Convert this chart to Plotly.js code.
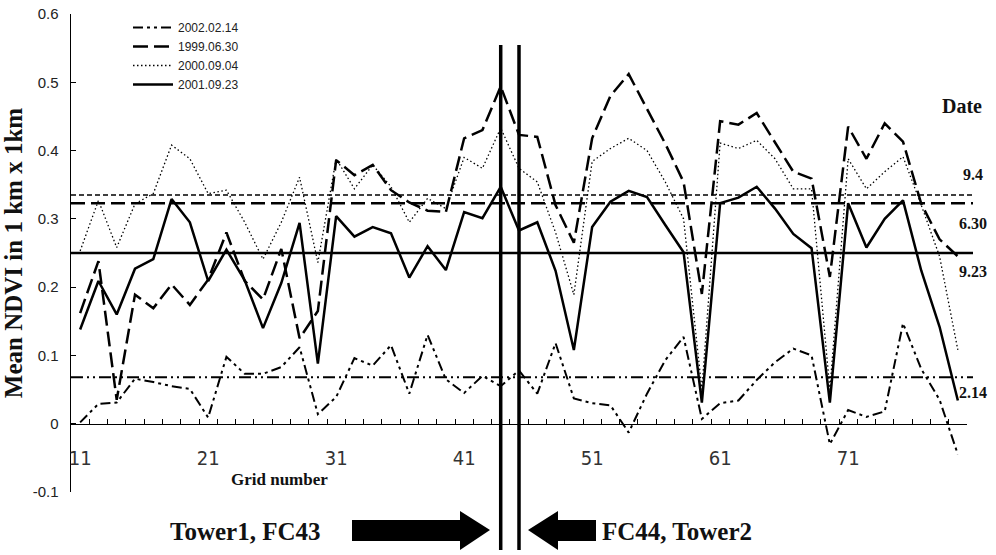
<!DOCTYPE html>
<html><head><meta charset="utf-8">
<script src="https://cdn.plot.ly/plotly-3.0.1.min.js"></script>
<style>html,body{margin:0;padding:0;background:#fff}#chart{width:996px;height:555px}</style>
</head><body><div id="chart"></div>
<script>
// ---- data ----
const gridPos = [0,1,2,3,4,5,6,7,8,9,10,11,12,13,14,15,16,17,18,19,20,21,22,23,24,25,26,27,28,29,30,31,32,33,34,35,36,37,38,39,40,41,42,43,44,45,46,47,48];
const ndvi20020214 = [0.002,0.029,0.031,0.066,0.061,0.055,0.051,0.009,0.098,0.073,0.073,0.083,0.112,0.014,0.039,0.096,0.085,0.115,0.044,0.13,0.065,0.045,0.07,0.055,0.078,0.044,0.118,0.037,0.03,0.027,-0.013,0.044,0.093,0.127,0.007,0.03,0.034,0.064,0.09,0.11,0.1,-0.03,0.02,0.01,0.018,0.147,0.08,0.035,-0.045];
const ndvi19990630 = [0.162,0.238,0.035,0.189,0.169,0.204,0.174,0.211,0.280,0.209,0.182,0.256,0.125,0.165,0.386,0.364,0.379,0.342,0.324,0.312,0.31,0.418,0.430,0.494,0.423,0.42,0.32,0.265,0.418,0.48,0.512,0.46,0.41,0.354,0.19,0.443,0.438,0.455,0.413,0.369,0.359,0.215,0.435,0.388,0.44,0.413,0.322,0.27,0.245];
const ndvi20000904 = [0.253,0.327,0.258,0.322,0.337,0.408,0.388,0.337,0.342,0.295,0.241,0.295,0.361,0.236,0.388,0.344,0.379,0.347,0.295,0.33,0.315,0.39,0.374,0.433,0.374,0.354,0.28,0.189,0.384,0.403,0.418,0.40,0.354,0.30,0.05,0.411,0.403,0.415,0.388,0.344,0.344,0.05,0.388,0.344,0.369,0.391,0.32,0.245,0.108];
const ndvi20010923 = [0.138,0.209,0.160,0.227,0.241,0.329,0.295,0.209,0.255,0.21,0.140,0.206,0.294,0.088,0.304,0.274,0.288,0.279,0.214,0.260,0.225,0.310,0.301,0.347,0.283,0.295,0.224,0.108,0.288,0.325,0.341,0.332,0.291,0.251,0.031,0.323,0.331,0.347,0.315,0.278,0.257,0.031,0.323,0.258,0.300,0.327,0.224,0.142,0.034];
const seriesNames = ['2002.02.14','1999.06.30','2000.09.04','2001.09.23'];
const meanValues = [0.335, 0.323, 0.25, 0.068];
const meanLabels = ['9.4','6.30','9.23','2.14'];
const xTickPos = [0,7,14,21,28,35,42];
const xTickText = ['11','21','31','41','51','61','71'];
const yTickVals = [-0.1,0,0.1,0.2,0.3,0.4,0.5,0.6];
const yTickText = ['-0.1','0','0.1','0.2','0.3','0.4','0.5','0.6'];
const towerPos = [23, 24];
const towerText = ['Tower1, FC43', 'FC44, Tower2'];

// ---- styles ----
const seriesDash = ['10px,4px,3px,4px,3px,4px', '15px,6px', '1.5px,2.5px', 'solid'];
const seriesWidth = [2, 2.5, 1.3, 2.5];
const meanDash = ['5px,3px', '14px,6px', 'solid', '12px,4px,2px,4px,2px,4px'];
const meanWidth = [1.5, 2.5, 2.5, 2];
const meanLabelShift = [20, -20, -18, -15];

// plot area in pixels (for non-data decorations)
const L = 71, R = 967, T = 14, B = 492;
const px = v => (v - L) / (R - L);
const py = v => (B - v) / (B - T);

const seriesData = [ndvi20020214, ndvi19990630, ndvi20000904, ndvi20010923];
const traces = seriesData.map((ys, i) => ({
  type: 'scatter', mode: 'lines', name: seriesNames[i],
  x: gridPos, y: ys,
  line: {color: '#000', width: seriesWidth[i], dash: seriesDash[i]},
  hoverinfo: 'x+y'
}));
traces.push({type:'scatter', mode:'lines', x:[0], y:[null], xaxis:'x2', yaxis:'y', showlegend:false, hoverinfo:'skip'});

const shapes = [];
const annotations = [];
meanValues.forEach((v, i) => {
  shapes.push({type:'line', xref:'paper', yref:'y', x0:0, x1:px(973), y0:v, y1:v,
    line:{color:'#000', width:meanWidth[i], dash:meanDash[i]}});
  annotations.push({xref:'paper', yref:'y', x:px(973), y:v, yshift:meanLabelShift[i],
    text:'<b>'+meanLabels[i]+'</b>', showarrow:false, xanchor:'center', yanchor:'middle',
    font:{family:'Liberation Serif, Times New Roman, serif', size:16, color:'#111'}});
});
towerPos.forEach(t => {
  shapes.push({type:'line', xref:'x', yref:'paper', x0:t, x1:t, y0:py(550), y1:py(45),
    line:{color:'#000', width:3.5}});
});
const toPath = pts => 'M' + pts.map(p => px(p[0]) + ',' + py(p[1])).join(' L') + ' Z';
shapes.push({type:'path', xref:'paper', yref:'paper', fillcolor:'#000', line:{width:0},
  path: toPath([[352,520],[460,520],[460,511],[490,530],[460,550],[460,541],[352,541]])});
shapes.push({type:'path', xref:'paper', yref:'paper', fillcolor:'#000', line:{width:0},
  path: toPath([[528,530],[558,511],[558,520],[596,520],[596,541],[558,541],[558,550]])});

const serif = 'Liberation Serif, Times New Roman, serif';
annotations.push({xref:'paper', yref:'paper', x:px(962), y:py(106), text:'<b>Date</b>', showarrow:false,
  xanchor:'center', yanchor:'middle', font:{family:serif, size:20, color:'#111'}});
annotations.push({xref:'paper', yref:'paper', x:px(279), y:py(479), text:'<b>Grid number</b>', showarrow:false,
  xanchor:'center', yanchor:'middle', font:{family:serif, size:17, color:'#111'}});
annotations.push({xref:'paper', yref:'paper', x:px(322), y:py(531), text:'<b>'+towerText[0]+'</b>', showarrow:false,
  xanchor:'right', yanchor:'middle', font:{family:serif, size:25, color:'#111'}});
annotations.push({xref:'paper', yref:'paper', x:px(600), y:py(531), text:'<b>'+towerText[1]+'</b>', showarrow:false,
  xanchor:'left', yanchor:'middle', font:{family:serif, size:25, color:'#111'}});

const layout = {
  width: 996, height: 555,
  margin: {l: L, r: 996 - R, t: T, b: 555 - B},
  paper_bgcolor: '#fff', plot_bgcolor: '#fff',
  showlegend: true,
  legend: {x: px(128), y: py(13), xanchor:'left', yanchor:'top', bgcolor:'rgba(0,0,0,0)',
    font:{family:'Liberation Sans, Arial, sans-serif', size:12, color:'#222'}, itemwidth: 40, traceorder:'normal'},
  xaxis: {range:[-0.5, 48.5], anchor:'free', position: 1/7, showline:true, linecolor:'#000', linewidth:1.5,
    ticks:'inside', ticklen:5, tickcolor:'#000', tickwidth:1, tickmode:'linear', tick0:0.5, dtick:1,
    showticklabels:false, showgrid:false, zeroline:false},
  xaxis2: {range:[-0.5, 48.5], overlaying:'x', anchor:'free', position: py(444), showline:false, ticks:'',
    tickmode:'array', tickvals: xTickPos, ticktext: xTickText, showgrid:false, zeroline:false,
    tickfont:{family:'Liberation Sans Narrow, DejaVu Sans Condensed, Liberation Sans, sans-serif', size:20, color:'#333'}},
  yaxis: {range:[-0.1, 0.6], showline:true, linecolor:'#000', linewidth:1.5, ticks:'inside', ticklen:5,
    tickcolor:'#000', tickmode:'array', tickvals: yTickVals, ticktext: yTickText, showgrid:false, zeroline:false,
    ticklabelstandoff: 8,
    tickfont:{family:'Liberation Sans, Arial, sans-serif', size:15, color:'#222'},
    title:{text:'<b>Mean NDVI in 1 km x 1km</b>', standoff: 3, font:{family:serif, size:25, color:'#111'}}},
  shapes: shapes,
  annotations: annotations
};
Plotly.newPlot('chart', traces, layout, {displayModeBar:false, staticPlot:true});
</script></body></html>
